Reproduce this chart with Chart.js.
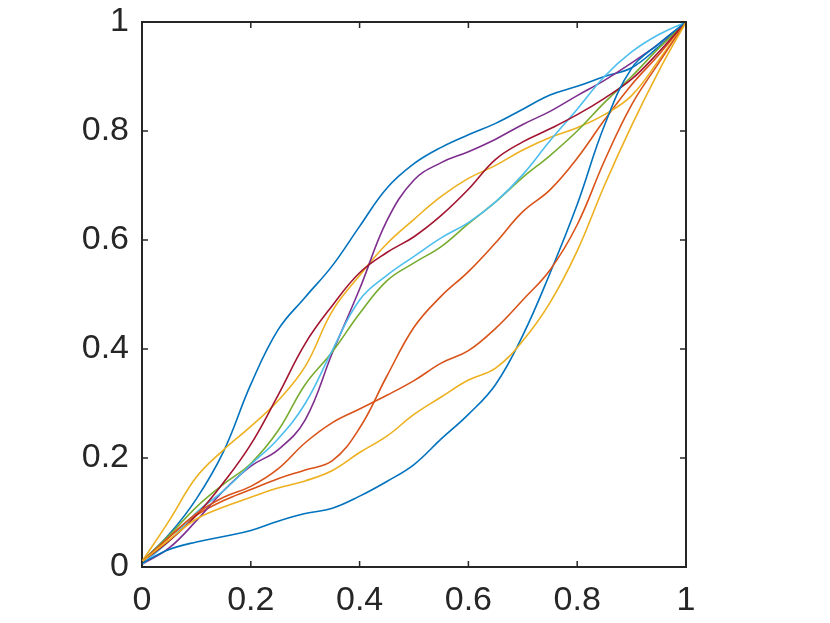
<!DOCTYPE html>
<html>
<head>
<meta charset="utf-8">
<script src="https://cdn.jsdelivr.net/npm/chart.js@4.4.1/dist/chart.umd.min.js"></script>
<style>
  body { margin: 0; background: #fff; }
  #wrap { width: 830px; height: 623px; }
</style>
</head>
<body>
<div id="wrap"><canvas id="lineChart" width="830" height="623"></canvas></div>
<script>
// sample positions shared by every curve
const xs = [0, 0.05, 0.1, 0.15, 0.2, 0.25, 0.3, 0.35, 0.4, 0.45, 0.5,
            0.55, 0.6, 0.65, 0.7, 0.75, 0.8, 0.85, 0.9, 0.95, 1];

const tickLabels = ['0', '0.2', '0.4', '0.6', '0.8', '1'];

// curve values
const blueTop    = [0.01, 0.06, 0.125, 0.212, 0.335, 0.435, 0.495, 0.553, 0.625, 0.695, 0.74,
                    0.77, 0.793, 0.814, 0.84, 0.866, 0.882, 0.90, 0.916, 0.955, 1];
const orangeS    = [0.01, 0.055, 0.095, 0.122, 0.142, 0.162, 0.178, 0.195, 0.255, 0.35, 0.44,
                    0.497, 0.542, 0.595, 0.652, 0.692, 0.75, 0.82, 0.885, 0.94, 1];
const yellowTop  = [0.01, 0.085, 0.165, 0.215, 0.258, 0.305, 0.368, 0.47, 0.535, 0.593, 0.638,
                    0.68, 0.713, 0.737, 0.765, 0.788, 0.806, 0.83, 0.865, 0.93, 1];
const purple     = [0.005, 0.035, 0.085, 0.14, 0.185, 0.215, 0.27, 0.393, 0.51, 0.635, 0.71,
                    0.742, 0.762, 0.785, 0.812, 0.836, 0.865, 0.893, 0.925, 0.96, 1];
const green      = [0.01, 0.058, 0.11, 0.152, 0.19, 0.25, 0.335, 0.395, 0.465, 0.525, 0.558,
                    0.588, 0.63, 0.67, 0.715, 0.755, 0.80, 0.852, 0.90, 0.952, 1];
const cyan       = [0.005, 0.048, 0.10, 0.14, 0.188, 0.235, 0.30, 0.398, 0.49, 0.535, 0.57,
                    0.604, 0.632, 0.67, 0.72, 0.782, 0.84, 0.90, 0.945, 0.977, 1];
const darkRed    = [0.01, 0.048, 0.095, 0.155, 0.225, 0.315, 0.41, 0.48, 0.54, 0.577, 0.606,
                    0.645, 0.693, 0.748, 0.78, 0.804, 0.83, 0.86, 0.895, 0.945, 1];
const blueLow    = [0.007, 0.032, 0.046, 0.056, 0.067, 0.084, 0.098, 0.108, 0.13, 0.157, 0.188,
                    0.235, 0.28, 0.335, 0.425, 0.539, 0.665, 0.81, 0.915, 0.96, 1];
const orangeLow  = [0.01, 0.055, 0.098, 0.128, 0.148, 0.18, 0.228, 0.265, 0.29, 0.315, 0.342,
                    0.374, 0.397, 0.438, 0.49, 0.545, 0.628, 0.745, 0.848, 0.925, 1];
const yellowLow  = [0.01, 0.05, 0.088, 0.11, 0.128, 0.145, 0.158, 0.177, 0.21, 0.24, 0.28,
                    0.312, 0.343, 0.365, 0.415, 0.485, 0.58, 0.70, 0.81, 0.91, 1];

const series = [blueTop, orangeS, yellowTop, purple, green, cyan, darkRed, blueLow, orangeLow, yellowLow];
const colors = ['#0072BD', '#D95319', '#EDB120', '#7E2F8E', '#77AC30', '#4DBEEE', '#A2142F',
                '#0072BD', '#D95319', '#EDB120'];

const axisColor = '#262626';

// inward ticks on all four sides plus the top/right edges of the box
const boxTicks = {
    id: 'boxTicks',
    afterDraw(chart) {
        const ctx = chart.ctx;
        const a = chart.chartArea;
        const len = 6;
        ctx.save();
        ctx.strokeStyle = axisColor;
        ctx.lineWidth = 2;
        ctx.beginPath();
        ctx.moveTo(a.left, a.top);
        ctx.lineTo(a.right, a.top);
        ctx.lineTo(a.right, a.bottom);
        ctx.stroke();
        ctx.lineWidth = 1.5;
        ctx.beginPath();
        chart.scales.x.ticks.forEach(t => {
            const px = chart.scales.x.getPixelForValue(t.value);
            ctx.moveTo(px, a.bottom); ctx.lineTo(px, a.bottom - len);
            ctx.moveTo(px, a.top); ctx.lineTo(px, a.top + len);
        });
        chart.scales.y.ticks.forEach(t => {
            const py = chart.scales.y.getPixelForValue(t.value);
            ctx.moveTo(a.left, py); ctx.lineTo(a.left + len, py);
            ctx.moveTo(a.right, py); ctx.lineTo(a.right - len, py);
        });
        ctx.stroke();
        ctx.restore();
    }
};

const tickFont = { family: '"Liberation Sans", Arial, sans-serif', size: 34 };

const chart = new Chart(document.getElementById('lineChart'), {
    type: 'line',
    data: {
        labels: xs,
        datasets: series.map((ys, i) => ({
            data: ys.map((y, k) => ({ x: xs[k], y: y })),
            borderColor: colors[i],
            borderWidth: 1.6,
            pointRadius: 0,
            fill: false,
            order: series.length - i,
            tension: 0.4
        }))
    },
    options: {
        responsive: false,
        animation: false,
        layout: { padding: { left: 0, top: 22, right: 144, bottom: 0 } },
        plugins: { legend: { display: false }, tooltip: { enabled: false } },
        scales: {
            x: {
                type: 'linear',
                min: 0,
                max: 1,
                afterFit: s => { s.height = 56; s.paddingLeft = 0; s.paddingRight = 0; },
                ticks: {
                    stepSize: 0.2,
                    padding: 13,
                    color: axisColor,
                    font: tickFont,
                    maxRotation: 0,
                    callback: (v, i) => tickLabels[i]
                },
                grid: { drawOnChartArea: false, drawTicks: false },
                border: { display: true, color: axisColor, width: 2 }
            },
            y: {
                type: 'linear',
                min: 0,
                max: 1,
                afterFit: s => { s.width = 142; s.paddingTop = 0; s.paddingBottom = 0; },
                ticks: {
                    stepSize: 0.2,
                    padding: 13,
                    color: axisColor,
                    font: tickFont,
                    callback: (v, i) => tickLabels[i]
                },
                grid: { drawOnChartArea: false, drawTicks: false },
                border: { display: true, color: axisColor, width: 2 }
            }
        }
    },
    plugins: [boxTicks]
});
</script>
</body>
</html>
